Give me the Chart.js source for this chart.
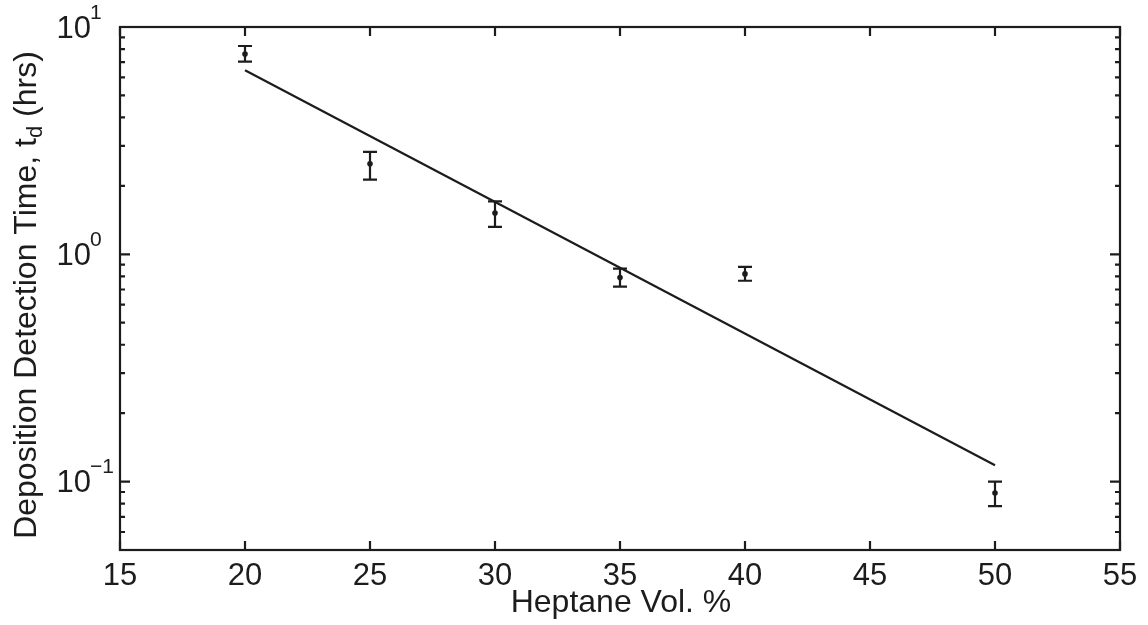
<!DOCTYPE html>
<html>
<head>
<meta charset="utf-8">
<script src="https://cdn.jsdelivr.net/npm/chart.js@4.4.0/dist/chart.umd.min.js"></script>
<style>
  body { margin: 0; background: #fff; }
  #wrap { width: 1148px; height: 625px; }
</style>
</head>
<body>
<div id="wrap"><canvas id="chart"></canvas></div>
<script>
// measured deposition times with error ranges
const heptane = [20, 25, 30, 35, 40, 50];
const tdMean = [7.6, 2.5, 1.52, 0.79, 0.82, 0.089];
const tdLow = [7.04, 2.13, 1.32, 0.72, 0.765, 0.078];
const tdHigh = [8.25, 2.82, 1.71, 0.865, 0.88, 0.1];

// exponential fit, endpoints
const fitX = [20, 50];
const fitY = [6.45, 0.118];

const xTicks = [15, 20, 25, 30, 35, 40, 45, 50, 55];
const yDecades = [-1, 0, 1];

const INK = "#1c1c1c";
const FONT = "'Liberation Sans', Arial, Helvetica, sans-serif";

const errorBars = {
    id: "errorBars",
    afterDatasetsDraw(chart) {
        let ctx = chart.ctx;
        let xs = chart.scales.x, ys = chart.scales.y;
        ctx.save();
        ctx.strokeStyle = INK;
        ctx.lineWidth = 2.2;
        for (let i = 0; i < heptane.length; i++) {
            let px = xs.getPixelForValue(heptane[i]);
            let top = ys.getPixelForValue(tdHigh[i]);
            let bot = ys.getPixelForValue(tdLow[i]);
            ctx.beginPath();
            ctx.moveTo(px, top); ctx.lineTo(px, bot);
            ctx.moveTo(px - 7, top); ctx.lineTo(px + 7, top);
            ctx.moveTo(px - 7, bot); ctx.lineTo(px + 7, bot);
            ctx.stroke();
        }
        ctx.restore();
    }
};

// box, inward ticks and labels
const axesBox = {
    id: "axesBox",
    afterDraw(chart) {
        let ctx = chart.ctx;
        let a = chart.chartArea;
        let xs = chart.scales.x, ys = chart.scales.y;
        ctx.save();
        ctx.strokeStyle = INK;
        ctx.fillStyle = INK;
        ctx.lineWidth = 2.2;
        ctx.strokeRect(a.left, a.top, a.right - a.left, a.bottom - a.top);

        ctx.beginPath();
        xTicks.forEach(v => {
            let px = xs.getPixelForValue(v);
            ctx.moveTo(px, a.bottom); ctx.lineTo(px, a.bottom - 9);
            ctx.moveTo(px, a.top); ctx.lineTo(px, a.top + 9);
        });
        for (let d = -2; d <= 1; d++) {
            for (let m = 1; m <= 9; m++) {
                let v = m * Math.pow(10, d);
                if (v < ys.min - 1e-9 || v > ys.max + 1e-9) continue;
                let py = ys.getPixelForValue(v);
                let len = m === 1 ? 10 : 5;
                ctx.moveTo(a.left, py); ctx.lineTo(a.left + len, py);
                ctx.moveTo(a.right, py); ctx.lineTo(a.right - len, py);
            }
        }
        ctx.stroke();

        ctx.font = "31px " + FONT;
        ctx.textAlign = "center";
        ctx.textBaseline = "middle";
        xTicks.forEach(v => {
            ctx.fillText(String(v), xs.getPixelForValue(v), a.bottom + 26);
        });

        yDecades.forEach(e => {
            let py = ys.getPixelForValue(Math.pow(10, e));
            ctx.font = "31px " + FONT;
            ctx.textAlign = "right";
            ctx.textBaseline = "middle";
            ctx.fillText("10", 91, py + 2);
            ctx.font = "21px " + FONT;
            ctx.textAlign = "left";
            ctx.fillText(e < 0 ? "\u2212" + Math.abs(e) : String(e), 90, py - 14);
        });

        ctx.font = "32px " + FONT;
        ctx.textAlign = "center";
        ctx.textBaseline = "middle";
        ctx.fillText("Heptane Vol. %", (a.left + a.right) / 2 + 1, 603);

        // rotated y title with subscript
        let parts = [
            { t: "Deposition Detection Time, t", size: 32, dy: 0 },
            { t: "d", size: 22, dy: 9 },
            { t: " (hrs)", size: 32, dy: 0 }
        ];
        let total = 0;
        parts.forEach(p => {
            ctx.font = p.size + "px " + FONT;
            p.w = ctx.measureText(p.t).width;
            total += p.w;
        });
        ctx.translate(27, 295);
        ctx.rotate(-Math.PI / 2);
        ctx.textAlign = "left";
        ctx.textBaseline = "middle";
        let x = -total / 2;
        parts.forEach(p => {
            ctx.font = p.size + "px " + FONT;
            ctx.fillText(p.t, x, p.dy);
            x += p.w;
        });
        ctx.restore();
    }
};

new Chart(document.getElementById("chart"), {
    type: "scatter",
    data: {
        datasets: [
            {
                label: "Measured",
                data: heptane.map((h, i) => ({ x: h, y: tdMean[i] })),
                pointRadius: 2.8,
                pointBackgroundColor: INK,
                pointBorderWidth: 0,
                showLine: false
            },
            {
                label: "Fit",
                data: fitX.map((h, i) => ({ x: h, y: fitY[i] })),
                showLine: true,
                borderColor: INK,
                borderWidth: 2.2,
                pointRadius: 0,
                fill: false
            }
        ]
    },
    plugins: [errorBars, axesBox],
    options: {
        responsive: true,
        maintainAspectRatio: false,
        animation: false,
        layout: { padding: { left: 120, top: 27, right: 28, bottom: 75 } },
        plugins: { legend: { display: false }, tooltip: { enabled: false } },
        scales: {
            x: { type: "linear", min: 15, max: 55, display: false },
            y: { type: "logarithmic", min: 0.05, max: 10, display: false }
        }
    }
});
</script>
</body>
</html>
